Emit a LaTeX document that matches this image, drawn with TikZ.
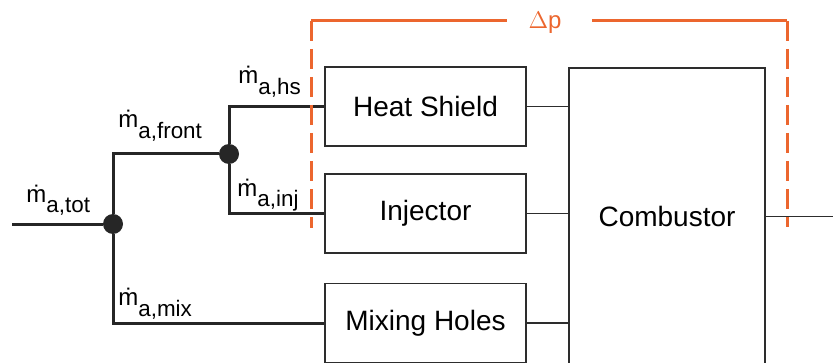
\documentclass[tikz,border=0pt]{standalone}
\usepackage{fontspec}
\setmainfont{Liberation Sans}
\usepackage{tikz}
\usepackage{xcolor}

\definecolor{dporange}{RGB}{236,102,46}
\definecolor{boxgray}{RGB}{45,45,45}

\newcommand{\mflow}[1]{\.{m}\raisebox{-5.5pt}{\fontsize{11.2}{12}\selectfont a,#1}}

\tikzset{
  unit/.style={draw=boxgray,line width=0.75pt,minimum width=100.5pt,minimum height=39.5pt,
    inner sep=0pt,font=\fontsize{14}{16}\selectfont},
  junction/.style={circle,fill=black!85,inner sep=0pt,minimum size=10pt},
  flowlabel/.style={anchor=base west,inner sep=0pt,font=\fontsize{12}{14}\selectfont},
  duct/.style={line width=1.5pt,black!85},
  link/.style={line width=0.75pt,boxgray},
  dpline/.style={line width=1.5pt,dporange}
}

\begin{document}
\begin{tikzpicture}[x=0.5pt,y=-0.5pt]
  \useasboundingbox (0,0) rectangle (833,363);
  % components
  \node[unit] (hs) at (425.5,106.5) {Heat Shield};
  \node[unit] (inj) at (425.5,213.5) {Injector};
  \node[unit] (mix) at (425.5,323) {Mixing Holes};
  \node[unit,minimum width=98pt,minimum height=148.5pt] (comb) at (667,216.5) {Combustor};
  % splits
  \node[junction] (j1) at (113,224) {};
  \node[junction] (j2) at (229,154) {};
  \coordinate (in) at (12,224);
  \coordinate (out) at (833,216.5);
  \draw[duct] (in) -- (j1);
  \draw[duct] (j1) |- (j2);
  \draw[duct] (j1) |- (mix.west);
  \draw[duct] (j2) |- (hs.west);
  \draw[duct] (j2) |- (inj.west);
  \draw[link] (hs.east) -- (hs.east -| comb.west);
  \draw[link] (inj.east) -- (inj.east -| comb.west);
  \draw[link] (mix.east) -- (mix.east -| comb.west);
  \draw[link] (comb.east) -- (out);
  % mass flows
  \node[flowlabel] (ltot) at (26,202) {\mflow{tot}};
  \node[flowlabel] (lfront) at (118,128) {\mflow{front}};
  \node[flowlabel] (lhs) at (238,84) {\mflow{hs}};
  \node[flowlabel] (linj) at (237,196) {\mflow{inj}};
  \node[flowlabel] (lmix) at (118,305) {\mflow{mix}};
  % pressure drop
  \node[dporange,font=\fontsize{12}{14}\selectfont,inner sep=0pt,anchor=base] (dp) at (545,29) {$\Delta$p};
  \coordinate (dpa) at (311,228);
  \coordinate (dpb) at (311,21);
  \coordinate (dpc) at (787,21);
  \coordinate (dpd) at (787,227);
  \draw[dpline] (dpb) -- (507,21);
  \draw[dpline] (592,21) -- (dpc);
  \draw[dpline,dash pattern=on 10pt off 4pt] (dpb) -- (dpa);
  \draw[dpline,dash pattern=on 10pt off 4pt] (dpc) -- (dpd);
\end{tikzpicture}
\end{document}
